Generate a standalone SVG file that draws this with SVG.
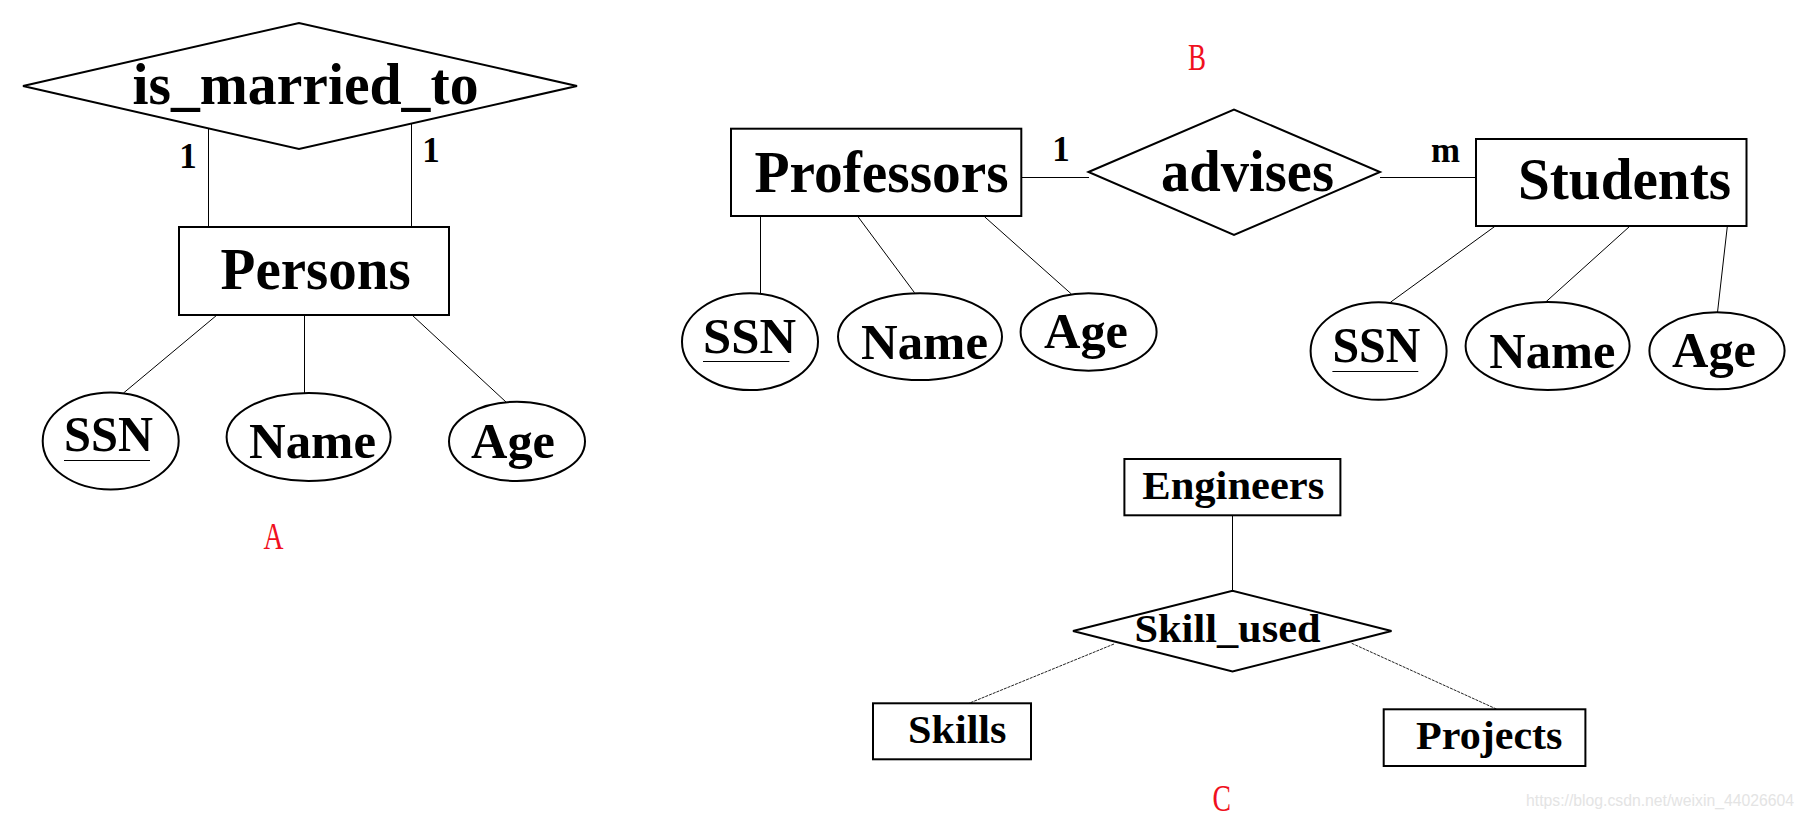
<svg xmlns="http://www.w3.org/2000/svg" width="1808" height="821" viewBox="0 0 1808 821">
<style>
.shape{fill:#fff;stroke:#000;stroke-width:2}
.conn{stroke:#000;stroke-width:1;fill:none}
.dot{stroke:#222;stroke-width:1;stroke-dasharray:3 1;fill:none}
.t{font-family:"Liberation Serif","Times New Roman",serif;font-weight:bold;fill:#000}
.big{font-size:59px}
.attr{font-size:50px}
.card{font-size:35px}
.mid{font-size:39px}
.red{font-family:"Liberation Serif","Times New Roman",serif;font-size:38px;fill:#f01020}
.wm{font-family:"Liberation Sans",Arial,sans-serif;font-size:16px;fill:#e4e4e4}
</style>
<rect width="1808" height="821" fill="#fff"/>
<g id="connectors">
<line class="conn" x1="208.5" y1="128" x2="208.5" y2="227"/>
<line class="conn" x1="411.5" y1="123" x2="411.5" y2="227"/>
<line class="conn" x1="217" y1="315" x2="123.5" y2="393"/>
<line class="conn" x1="304.5" y1="315" x2="304.5" y2="393"/>
<line class="conn" x1="412" y1="315" x2="506" y2="402"/>
<line class="conn" x1="1021.3" y1="177.5" x2="1089" y2="177.5"/>
<line class="conn" x1="1380" y1="177.5" x2="1476" y2="177.5"/>
<line class="conn" x1="760.5" y1="216" x2="760.5" y2="293.3"/>
<line class="conn" x1="858" y1="216.7" x2="914.5" y2="292.7"/>
<line class="conn" x1="984.5" y1="216.7" x2="1071.4" y2="294"/>
<line class="conn" x1="1494.7" y1="226.5" x2="1390.4" y2="302.3"/>
<line class="conn" x1="1629.5" y1="226.5" x2="1545.4" y2="302.3"/>
<line class="conn" x1="1727.3" y1="226.5" x2="1717.5" y2="312.3"/>
<line class="conn" x1="1232.5" y1="515.3" x2="1232.5" y2="590.7"/>
<line class="dot" x1="1114" y1="644" x2="969" y2="703.3"/>
<line class="dot" x1="1351.7" y1="643.3" x2="1497" y2="709.3"/>
</g>
<g id="is_married_to">
<polygon class="shape" points="23,86 299,23 577,86 299,149"/>
<text class="t big" x="132.5" y="104" textLength="346" lengthAdjust="spacingAndGlyphs">is_married_to</text>
</g>
<g id="card-a1"><text class="t card" x="188" y="168" text-anchor="middle">1</text></g>
<g id="card-a2"><text class="t card" x="431" y="162" text-anchor="middle">1</text></g>
<g id="persons">
<rect class="shape" x="179" y="227" width="270" height="88"/>
<text class="t big" x="220.6" y="289" textLength="190" lengthAdjust="spacingAndGlyphs">Persons</text>
</g>
<g id="a-ssn">
<ellipse class="shape" cx="110.7" cy="441" rx="68" ry="48.5"/>
<text class="t attr" x="64" y="451" textLength="89" lengthAdjust="spacingAndGlyphs">SSN</text>
<line class="conn" x1="64" y1="460.5" x2="150" y2="460.5"/>
</g>
<g id="a-name">
<ellipse class="shape" cx="308.6" cy="437" rx="82" ry="44"/>
<text class="t attr" x="249" y="458" textLength="127" lengthAdjust="spacingAndGlyphs">Name</text>
</g>
<g id="a-age">
<ellipse class="shape" cx="517" cy="441.4" rx="68" ry="39.6"/>
<text class="t attr" x="471" y="458" textLength="84" lengthAdjust="spacingAndGlyphs">Age</text>
</g>
<g id="label-a"><text class="red" x="263.5" y="549" textLength="20" lengthAdjust="spacingAndGlyphs">A</text></g>

<g id="label-b"><text class="red" x="1188" y="70" textLength="18" lengthAdjust="spacingAndGlyphs">B</text></g>
<g id="professors">
<rect class="shape" x="731" y="128.7" width="290.3" height="87.3"/>
<text class="t big" x="754.5" y="191.7" textLength="254" lengthAdjust="spacingAndGlyphs">Professors</text>
</g>
<g id="card-b1"><text class="t card" x="1061" y="161" text-anchor="middle">1</text></g>
<g id="advises">
<polygon class="shape" points="1088.5,172 1234,109.5 1380,172 1234,235"/>
<text class="t big" x="1161" y="190.7" textLength="173" lengthAdjust="spacingAndGlyphs">advises</text>
</g>
<g id="card-bm"><text class="t card" x="1431" y="161.7" textLength="29" lengthAdjust="spacingAndGlyphs">m</text></g>
<g id="students">
<rect class="shape" x="1476" y="139" width="270.5" height="87"/>
<text class="t big" x="1518" y="199.3" textLength="213" lengthAdjust="spacingAndGlyphs">Students</text>
</g>
<g id="p-ssn">
<ellipse class="shape" cx="750" cy="341.7" rx="68" ry="48.4"/>
<text class="t attr" x="703" y="352.7" textLength="93" lengthAdjust="spacingAndGlyphs">SSN</text>
<line class="conn" x1="703" y1="361.5" x2="789.4" y2="361.5"/>
</g>
<g id="p-name">
<ellipse class="shape" cx="920" cy="336.7" rx="82" ry="43.4"/>
<text class="t attr" x="861" y="359.3" textLength="127" lengthAdjust="spacingAndGlyphs">Name</text>
</g>
<g id="p-age">
<ellipse class="shape" cx="1088.6" cy="332" rx="68" ry="38.7"/>
<text class="t attr" x="1044" y="348.3" textLength="84" lengthAdjust="spacingAndGlyphs">Age</text>
</g>
<g id="s-ssn">
<ellipse class="shape" cx="1378.6" cy="351" rx="68" ry="48.8"/>
<text class="t attr" x="1332.4" y="361.7" textLength="88" lengthAdjust="spacingAndGlyphs">SSN</text>
<line class="conn" x1="1332.4" y1="371.5" x2="1418.3" y2="371.5"/>
</g>
<g id="s-name">
<ellipse class="shape" cx="1547.6" cy="346" rx="82" ry="44"/>
<text class="t attr" x="1489.3" y="368.3" textLength="126" lengthAdjust="spacingAndGlyphs">Name</text>
</g>
<g id="s-age">
<ellipse class="shape" cx="1717" cy="350.8" rx="67.6" ry="38.5"/>
<text class="t attr" x="1672" y="366.7" textLength="84" lengthAdjust="spacingAndGlyphs">Age</text>
</g>

<g id="engineers">
<rect class="shape" x="1124.4" y="459" width="216" height="56.3"/>
<text class="t mid" x="1142.3" y="499.3" textLength="182" lengthAdjust="spacingAndGlyphs">Engineers</text>
</g>
<g id="skill_used">
<polygon class="shape" points="1073,631 1232.5,590.7 1391.5,631 1232.5,671.5"/>
<text class="t mid" x="1134.5" y="641.7" textLength="186" lengthAdjust="spacingAndGlyphs">Skill_used</text>
</g>
<g id="skills">
<rect class="shape" x="873" y="703.3" width="158" height="56"/>
<text class="t mid" x="908" y="742.7" textLength="98.5" lengthAdjust="spacingAndGlyphs">Skills</text>
</g>
<g id="projects">
<rect class="shape" x="1383.7" y="709.3" width="201.7" height="56.7"/>
<text class="t mid" x="1416" y="749.3" textLength="146.5" lengthAdjust="spacingAndGlyphs">Projects</text>
</g>
<g id="label-c"><text class="red" x="1212.5" y="811" textLength="18.5" lengthAdjust="spacingAndGlyphs">C</text></g>
<g id="watermark"><text class="wm" x="1526" y="806" textLength="268" lengthAdjust="spacingAndGlyphs">https://blog.csdn.net/weixin_44026604</text></g>
</svg>
